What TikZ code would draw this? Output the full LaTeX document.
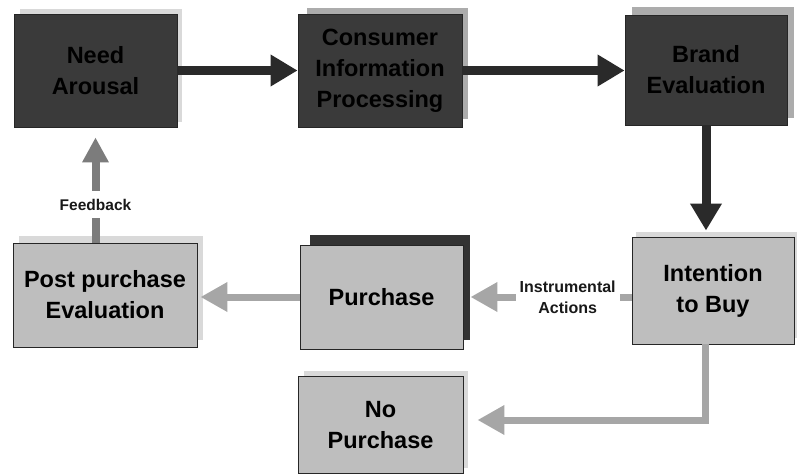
\documentclass[tikz,border=0pt]{standalone}
\usepackage{fontspec}
\setmainfont{Liberation Sans}
\usetikzlibrary{arrows.meta}
\definecolor{darkbox}{HTML}{3A3A3A}
\definecolor{lightbox}{HTML}{BEBEBE}
\definecolor{arrowdark}{HTML}{2A2A2A}
\definecolor{arrowlight}{HTML}{A6A6A6}
\definecolor{arrowmid}{HTML}{7C7C7C}
\tikzset{
  topbox/.style={draw=black!85, line width=0.8pt, fill=darkbox, align=center,
    text=black, font=\bfseries\fontsize{23.5}{31}\selectfont, inner sep=2pt},
  lowbox/.style={draw=black!85, line width=0.9pt, fill=lightbox, align=center,
    text=black, font=\bfseries\fontsize{23.5}{31}\selectfont, inner sep=2pt},
  backlight/.style={fill=gray!30},
  backmid/.style={fill=gray!65},
  backdark/.style={fill=black!80},
  darrow/.style={draw=arrowdark, line width=9pt, -{Triangle[width=30pt,length=27pt]}},
  larrow/.style={draw=arrowlight, line width=7pt, -{Triangle[width=28pt,length=27pt]}},
  farrow/.style={draw=arrowmid, line width=8pt, -{Triangle[width=25pt,length=25pt]}},
  lbl/.style={fill=white, align=center, font=\bfseries\fontsize{16}{21}\selectfont, text=black!90}
}
\begin{document}
\begin{tikzpicture}[x=1pt,y=-1pt]
\useasboundingbox[fill=white] (0,0) rectangle (801,474);

% back layers
\fill[backlight] (20,9) rectangle (182,122);
\fill[backmid] (307,8) rectangle (468,119);
\fill[backmid] (632,7) rectangle (794,118);
\fill[backdark] (310,235) rectangle (470,340);
\fill[backlight] (19,236) rectangle (203,340);
\fill[backlight] (636,232) rectangle (797,338);
\fill[backlight] (304,371) rectangle (468,468);

% boxes
\node[topbox, minimum width=163pt, minimum height=113pt] (need) at (95.5,70.5) {Need\\Arousal};
\node[topbox, minimum width=164pt, minimum height=113pt] (consumer) at (380,70.5) {Consumer\\Information\\Processing};
\node[topbox, minimum width=162pt, minimum height=110pt] (brand) at (706,70) {Brand\\Evaluation};
\node[lowbox, minimum width=162pt, minimum height=107pt] (intention) at (713,290.5) {Intention\\to Buy};
\node[lowbox, minimum width=163pt, minimum height=104pt] (purchase) at (381.5,297) {Purchase};
\node[lowbox, minimum width=184pt, minimum height=104pt] (post) at (105,295) {Post purchase\\Evaluation};
\node[lowbox, minimum width=165pt, minimum height=97pt] (nopurchase) at (380.5,425) {No\\Purchase};

% connectors
\draw[darrow] (need.east) -- (need.east -| consumer.west);
\draw[darrow] (consumer.east) -- (consumer.east -| brand.west);
\draw[darrow, shorten >=6pt] (brand.south) -- (brand.south |- intention.north);
\draw[larrow, shorten >=7pt] (purchase.east -| intention.west) -- node[lbl, pos=0.38, inner xsep=4pt, inner ysep=3pt] {Instrumental\\Actions} (purchase.east);
\draw[larrow, shorten >=3pt] (purchase.west) -- (purchase.west -| post.east);
\draw[larrow, shorten >=14pt] ([xshift=-8pt]intention.south) |- ([yshift=5pt]nopurchase.east);
\draw[farrow, shorten >=10pt] (need.south |- post.north) -- node[lbl, pos=0.33, inner xsep=2pt, inner ysep=8pt, font=\bfseries\fontsize{15.5}{19}\selectfont] {Feedback} (need.south);
\end{tikzpicture}
\end{document}
